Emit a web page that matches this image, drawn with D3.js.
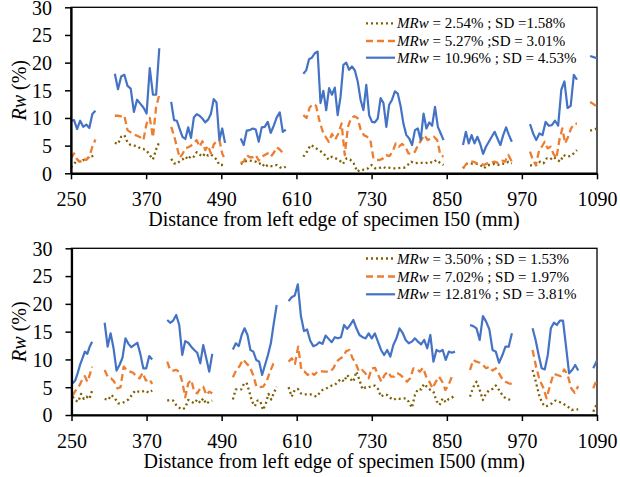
<!DOCTYPE html>
<html><head><meta charset="utf-8">
<script src="https://cdn.jsdelivr.net/npm/d3@7"></script>
<style>body{margin:0;background:#fff}svg{display:block}</style>
</head><body>
<script>
// ---------- tick labels ----------
const xTickValues = [250, 370, 490, 610, 730, 850, 970, 1090];
const yTickValues = [0, 5, 10, 15, 20, 25, 30];

// ---------- segment ranges (mm) ----------
const topSegments = [[250,289],[320,391],[410,496],[521,593],[621,845],[876,954],[983,1058],[1079,1090]];
const botSegments = [[252,283],[303,379],[403,475],[508,578],[597,863],[887,954],[987,1060],[1084,1090]];

// ---------- specimen I50 (top) ----------
const topLow = [
  [1.1,1.7,2.3,2.1,2.4,2.5,3.0,3.1,3.3],
  [5.5,5.3,6.6,6.9,5.6,5.1,5.0,4.9,4.5,4.4,4.1,3.3,2.5,4.3,5.7],
  [2.6,1.8,1.7,2.2,2.5,3.0,2.5,3.2,3.0,3.8,3.4,3.0,3.6,3.2,3.4,3.0,2.5,1.5,1.5,1.4],
  [1.7,1.9,2.3,2.3,2.2,2.1,1.7,1.9,1.1,1.5,1.3,1.3,1.5,1.1,0.9,1.2],
  [3.0,3.9,5.1,4.8,4.3,3.9,3.3,2.5,3.0,2.7,2.4,1.7,2.7,2.5,1.8,0.3,0.7,0.6,0.9,1.5,0.9,0.9,1.2,0.9,1.0,0.9,0.9,1.0,1.0,1.5,2.1,1.8,1.9,1.9,1.8,2.1,1.9,2.4,1.9,1.5],
  [0.9,1.7,1.8,1.7,1.7,1.5,0.9,1.5,1.5,1.7,1.5,1.8,1.7,2.1,1.8],
  [1.4,1.5,1.5,2.1,1.8,2.7,2.5,3.0,2.5,2.1,3.3,3.0,3.1,3.6,4.2],
  [7.7,7.9,8.1]
];
const topMid = [
  [2.7,3.6,2.5,2.1,2.7,2.4,3.0,4.8,6.1],
  [10.4,10.4,10.3,10.4,7.8,7.4,7.0,6.8,6.5,6.0,9.0,10.0,6.5,12.0,14.2],
  [8.4,6.8,4.8,2.8,3.5,4.5,4.7,5.0,5.5,6.0,4.8,5.8,4.2,5.0,3.6,5.2,5.8,6.0,3.6,2.4],
  [1.9,2.1,3.3,2.9,2.9,3.3,2.3,3.0,3.3,3.6,3.0,3.7,4.7,4.3,3.7,3.5],
  [10.5,10.0,11.9,12.5,12.2,9.6,7.7,6.6,5.7,7.1,6.1,7.2,9.0,3.3,8.4,10.0,10.3,10.0,7.9,6.9,6.6,6.1,2.7,2.4,2.4,2.7,3.3,3.1,3.9,5.4,4.8,5.3,4.8,3.6,3.5,3.9,5.1,6.0,6.9,6.0,6.3,6.6,6.0,3.3,3.0],
  [0.9,1.7,2.1,2.1,1.8,1.8,1.5,1.8,1.9,2.1,1.9,2.4,2.1,3.3,2.1],
  [3.9,2.4,1.5,3.9,4.8,5.7,4.5,4.8,3.5,2.7,6.0,8.1,5.4,6.6,8.1,8.9,9.0],
  [12.9,12.5,12.0]
];
const topHigh = [
  [9.5,9.6,8.0,9.5,8.4,8.8,8.2,10.7,11.3],
  [18.0,15.2,17.5,17.8,15.8,15.3,11.1,13.3,12.6,11.9,10.8,19.0,14.2,14.2,22.6],
  [12.9,9.6,9.5,8.0,6.6,6.2,8.3,6.4,10.1,10.7,10.4,9.9,9.2,9.7,10.7,13.4,12.8,6.0,8.1,5.5],
  [6.3,5.1,7.7,7.8,8.1,7.9,5.7,8.3,8.4,9.3,7.3,8.6,10.1,11.0,7.5,7.9],
  [18.0,18.6,20.6,20.9,21.7,22.0,12.7,14.9,11.4,15.4,14.2,15.5,10.5,13.8,19.6,20.0,18.7,19.3,18.6,16.6,13.3,11.4,16.0,10.5,9.3,9.2,9.9,13.6,12.7,8.4,12.4,13.3,14.8,14.4,12.1,8.9,6.9,6.3,5.1,7.8,8.1,6.0,10.8,8.1,9.2,8.6,12.0,8.4,7.2,6.0],
  [5.1,7.5,5.4,6.9,5.4,6.6,5.3,3.5,4.8,5.7,6.6,7.5,6.3,5.1,6.9,8.3,6.9,5.7],
  [8.9,7.2,6.0,7.2,6.9,9.3,8.6,8.7,9.5,8.6,15.1,16.6,11.8,12.2,17.8,16.9],
  [21.2,21.0,20.8]
];

// ---------- specimen I500 (bottom) ----------
const botLow = [
  [3.3,2.6,2.4,3.8,2.9,3.3,2.9,4.4],
  [2.9,2.7,3.6,3.0,2.1,2.1,2.4,2.8,3.6,4.4,4.2,4.2,4.4,4.0,4.4],
  [2.6,2.7,2.6,1.8,1.3,1.0,1.3,2.7,2.4,2.1,2.8,2.2,3.0,2.0,2.4,2.6],
  [2.8,4.6,4.6,4.6,5.6,5.8,4.2,2.4,1.6,2.6,2.5,0.9,2.0,3.8,2.8,4.0,5.1],
  [5.0,3.3,4.5,4.7,3.9,3.7,3.7,3.7,3.6,3.3,3.9,4.5,4.7,5.0,5.3,5.4,6.0,6.5,6.0,7.2,6.5,6.0,7.8,6.3,4.6,5.0,5.0,5.2,5.3,4.7,3.3,3.7,3.6,3.1,2.7,3.0,2.9,3.0,3.0,2.4,1.3,3.6,4.7,4.6,5.6,5.0,4.5,4.2,2.5,1.8,3.0,2.3,2.9,3.1,3.7],
  [3.3,5.0,6.0,4.5,2.7,3.9,4.5,4.7,5.3,4.5,3.6,3.0,2.8,2.7],
  [8.1,6.0,3.6,2.1,1.5,1.8,2.1,2.6,2.4,2.2,1.8,1.4,0.9,1.0,1.0],
  [0.6,2.0]
];
const botMid = [
  [3.5,4.3,4.8,5.5,6.5,7.0,6.0,7.2,8.7],
  [8.1,6.8,6.6,6.0,4.8,5.0,8.7,8.1,7.8,7.6,6.9,6.6,7.6,6.2,6.5,5.6],
  [9.6,8.1,8.0,8.1,7.8,6.0,3.2,5.7,6.3,4.2,3.9,4.8,5.1,3.6,4.2,3.9],
  [6.8,8.1,8.8,10.0,9.3,8.7,7.2,5.1,5.0,5.1,6.0,7.8,9.2,9.5],
  [9.6,10.2,9.2,12.3,8.1,7.8,7.2,7.7,7.2,7.8,7.9,7.8,7.8,7.8,8.4,9.6,10.1,10.5,11.5,11.7,10.2,9.3,7.8,8.1,7.5,6.6,8.4,8.5,7.2,6.0,7.2,7.8,6.9,6.9,7.5,7.2,6.6,6.0,6.6,8.4,8.3,7.8,8.5,6.9,6.0,4.8,6.0,6.9,6.0,4.5,5.4,6.9,7.2],
  [8.1,9.9,9.6,9.4,9.0,8.4,8.7,8.0,8.4,7.5,6.5,6.0,5.7,5.6],
  [11.7,8.7,6.3,5.0,3.0,5.4,7.4,7.2,7.0,8.2,7.2,4.8,4.0,5.2],
  [4.8,6.5]
];
const botHigh = [
  [5.7,6.2,7.5,9.0,10.2,11.4,11.0,12.3,13.2],
  [16.6,12.3,14.7,12.0,8.0,9.0,10.3,13.8,12.8,12.2,12.6,13.0,11.0,8.4,8.4,10.6,10.0],
  [17.1,16.6,17.0,18.0,16.2,10.8,13.3,13.0,12.3,11.7,11.2,9.3,12.6,10.2,7.8,11.0],
  [11.8,12.9,12.4,14.4,15.6,14.4,11.7,11.4,9.9,9.6,7.2,9.0,10.8,12.9,16.5,19.8],
  [20.5,21.2,21.5,23.5,17.8,15.1,15.4,13.4,12.4,12.6,13.1,12.8,14.3,13.7,13.1,14.0,13.8,14.0,16.2,15.5,16.2,17.1,15.6,14.4,14.0,13.8,14.7,13.8,14.7,13.2,11.7,10.8,11.7,10.5,12.6,13.8,15.6,14.8,13.5,12.9,13.2,13.8,13.2,12.7,13.5,12.0,14.4,9.6,11.7,11.4,11.7,9.9,11.4,11.2,11.4],
  [16.2,16.0,15.6,13.5,17.8,16.8,15.4,11.7,11.4,9.4,10.7,12.3,12.3,14.7],
  [15.6,13.5,10.8,8.4,8.2,10.8,15.6,16.6,16.2,17.0,17.0,12.3,7.5,8.1,9.0,8.0],
  [8.4,9.8]
];

// ---------- legend texts ----------
const topLegend = [" = 2.54% ; SD =1.58%", " = 5.27% ;SD = 3.01%", " = 10.96% ; SD = 4.53%"];
const botLegend = [" = 3.50% ; SD = 1.53%", " = 7.02% ; SD = 1.97%", " = 12.81% ; SD = 3.81%"];
const topTitle = "Distance from left edge of specimen I50 (mm)";
const botTitle = "Distance from left edge of specimen I500 (mm)";

// ---------- styles ----------
const styles = [
  {color:"#7F6000", dash:"2,3", width:2.3},
  {color:"#ED7D31", dash:"7,4", width:2.3},
  {color:"#4472C4", dash:null, width:2.2}
];
const FONT = "'Liberation Serif','Times New Roman',serif";

const W = 620, H = 477;
const svg = d3.select("body").append("svg").attr("width", W).attr("height", H)
  .style("font-family", FONT);

function panel(cfg) {
  const x = d3.scaleLinear().domain([250, 1090]).range([cfg.left, cfg.right]);
  const y = d3.scaleLinear().domain([0, 30]).range([cfg.bottom, cfg.top]);
  const g = svg.append("g");

  // frame
  g.append("rect").attr("x", cfg.left).attr("y", cfg.top)
    .attr("width", cfg.right - cfg.left).attr("height", cfg.bottom - cfg.top)
    .attr("fill", "none").attr("stroke", "#000").attr("stroke-width", 1.3);

  // series
  const line = d3.line().x(d => x(d[0])).y(d => y(d[1]));
  [cfg.low, cfg.mid, cfg.high].forEach((ser, si) => {
    const st = styles[si];
    ser.forEach((vals, k) => {
      const [a, b] = cfg.segs[k];
      const n = vals.length;
      const pts = vals.map((v, i) => [a + (n > 1 ? i * (b - a) / (n - 1) : 0), v]);
      const p = g.append("path").attr("d", line(pts)).attr("fill", "none")
        .attr("stroke", st.color).attr("stroke-width", st.width)
        .attr("stroke-linejoin", "round");
      if (st.dash) p.attr("stroke-dasharray", st.dash);
    });
  });

  // axes
  const xa = g.append("g").attr("transform", `translate(0,${cfg.bottom})`)
    .call(d3.axisBottom(x).tickValues(xTickValues).tickSize(6).tickSizeOuter(0).tickPadding(13).tickFormat(d3.format("d")));
  const ya = g.append("g").attr("transform", `translate(${cfg.left},0)`)
    .call(d3.axisLeft(y).tickValues(yTickValues).tickSize(6).tickSizeOuter(0).tickPadding(13));
  [xa, ya].forEach(a => {
    a.select(".domain").attr("stroke-width", 2.2);
    a.selectAll(".tick line").attr("stroke-width", 1.5);
    a.selectAll("text").attr("font-size", 20).attr("font-family", FONT).attr("fill", "#000");
  });
  ya.selectAll("text").attr("dy", "0.34em");

  // x title
  g.append("text").attr("x", (cfg.left + cfg.right) / 2).attr("y", cfg.bottom + 53)
    .attr("text-anchor", "middle").attr("font-size", 20).text(cfg.title);
  // y title
  const yt = g.append("text").attr("transform", `translate(26,${(cfg.top + cfg.bottom) / 2}) rotate(-90)`)
    .attr("text-anchor", "middle").attr("font-size", 20);
  yt.append("tspan").attr("font-style", "italic").text("Rw");
  yt.append("tspan").text(" (%)");

  // legend
  cfg.legend.forEach((t, i) => {
    const ly = cfg.legY[i];
    const st = styles[i];
    const l = g.append("line").attr("x1", 366).attr("x2", 395).attr("y1", ly).attr("y2", ly)
      .attr("stroke", st.color).attr("stroke-width", st.width);
    if (st.dash) l.attr("stroke-dasharray", st.dash);
    const tx = g.append("text").attr("x", 397).attr("y", ly + 5).attr("font-size", 15);
    tx.append("tspan").attr("font-style", "italic").text("MRw");
    tx.append("tspan").text(t);
  });
}

panel({left: 71, right: 597, top: 7.3, bottom: 173.3, segs: topSegments,
  low: topLow, mid: topMid, high: topHigh, legend: topLegend, legY: [23.3, 41, 57.7], title: topTitle});
panel({left: 71.5, right: 597, top: 248.3, bottom: 415, segs: botSegments,
  low: botLow, mid: botMid, high: botHigh, legend: botLegend, legY: [258.5, 276.5, 294.3], title: botTitle});
</script>
</body></html>
